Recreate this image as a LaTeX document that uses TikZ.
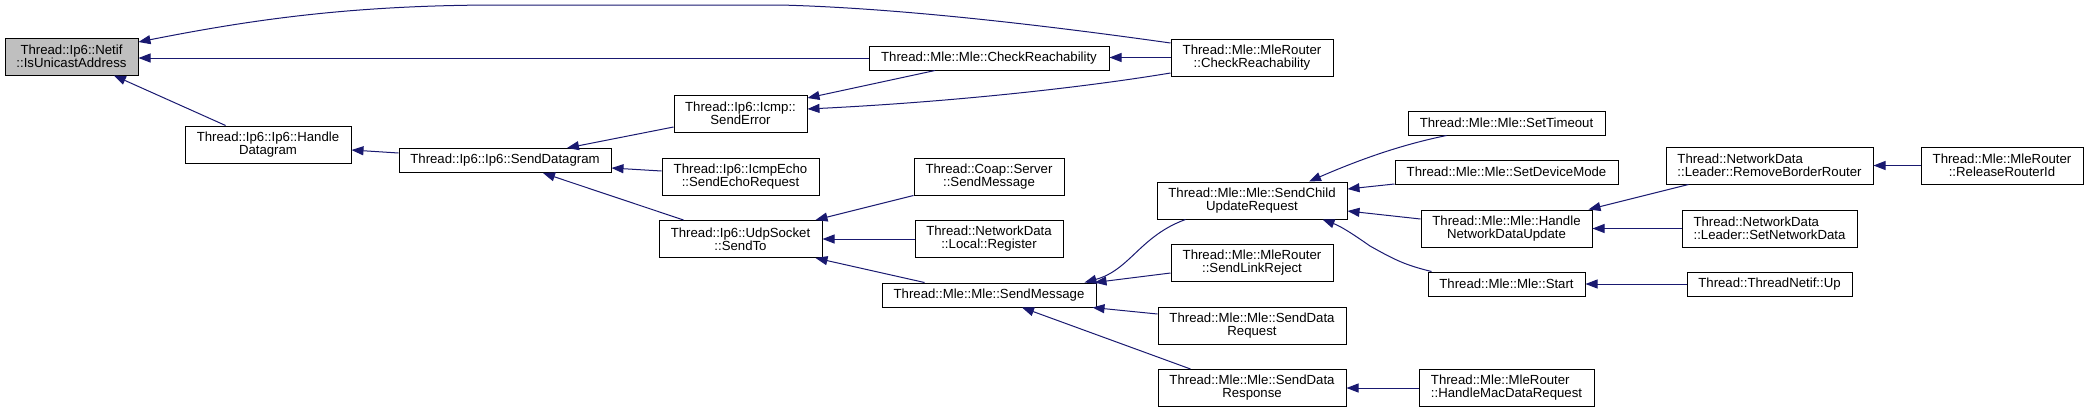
\documentclass[tikz,border=0pt]{standalone}
\usepackage{fontspec}
\setmainfont{Liberation Sans}
\usetikzlibrary{arrows.meta}
\definecolor{edgeblue}{RGB}{25,25,112}
\definecolor{nodegray}{RGB}{191,191,191}
\begin{document}
\begin{tikzpicture}[x=1pt,y=-1pt,
  fn/.style={draw=black, line width=1pt, inner sep=0pt, align=center, fill=white,
    font=\fontsize{13.2}{13}\selectfont},
  fnl/.style={fn, align=left},
  edge/.style={draw=edgeblue, line width=1pt, -{Triangle[length=12pt,width=9pt]}},
]
\useasboundingbox (0,0) rectangle (2088,413);
% nodes
\node[fn, fill=nodegray, minimum width=133pt, minimum height=37pt] (netif) at (71.5,56.5) {Thread::Ip6::Netif\\::IsUnicastAddress};
\node[fn, minimum width=166pt, minimum height=37pt] (hd) at (268,144.5) {Thread::Ip6::Ip6::Handle\\Datagram};
\node[fn, minimum width=212pt, minimum height=24pt] (sdg) at (505,160.5) {Thread::Ip6::Ip6::SendDatagram};
\node[fn, minimum width=133pt, minimum height=37pt] (se) at (740.5,113.5) {Thread::Ip6::Icmp::\\SendError};
\node[fn, minimum width=157pt, minimum height=37pt] (ser) at (740.5,176.5) {Thread::Ip6::IcmpEcho\\::SendEchoRequest};
\node[fn, minimum width=163pt, minimum height=37pt] (udp) at (740.5,239) {Thread::Ip6::UdpSocket\\::SendTo};
\node[fn, minimum width=240pt, minimum height=24pt] (mlecr) at (989,58) {Thread::Mle::Mle::CheckReachability};
\node[fn, minimum width=162pt, minimum height=37pt] (mrcr) at (1252,57.5) {Thread::Mle::MleRouter\\::CheckReachability};
\node[fn, minimum width=150pt, minimum height=37pt] (coap) at (989,176.5) {Thread::Coap::Server\\::SendMessage};
\node[fn, minimum width=148pt, minimum height=37pt] (local) at (989,239) {Thread::NetworkData\\::Local::Register};
\node[fn, minimum width=214pt, minimum height=24pt] (sm) at (989,295) {Thread::Mle::Mle::SendMessage};
\node[fn, minimum width=190pt, minimum height=37pt] (scur) at (1252,200.5) {Thread::Mle::Mle::SendChild\\UpdateRequest};
\node[fn, minimum width=162pt, minimum height=37pt] (slr) at (1252,263) {Thread::Mle::MleRouter\\::SendLinkReject};
\node[fn, minimum width=188pt, minimum height=37pt] (sdreq) at (1252,325.5) {Thread::Mle::Mle::SendData\\Request};
\node[fn, minimum width=188pt, minimum height=37pt] (sdresp) at (1252,388) {Thread::Mle::Mle::SendData\\Response};
\node[fn, minimum width=197pt, minimum height=24pt] (st) at (1506.5,123) {Thread::Mle::Mle::SetTimeout};
\node[fn, minimum width=223pt, minimum height=24pt] (sdm) at (1506.5,172) {Thread::Mle::Mle::SetDeviceMode};
\node[fn, minimum width=171pt, minimum height=37pt] (hndu) at (1506.5,228.5) {Thread::Mle::Mle::Handle\\NetworkDataUpdate};
\node[fn, minimum width=157pt, minimum height=24pt] (start) at (1506.5,284) {Thread::Mle::Mle::Start};
\node[fnl, minimum width=175pt, minimum height=37pt] (hmdr) at (1506.5,388) {Thread::Mle::MleRouter\\::HandleMacDataRequest};
\node[fnl, minimum width=207pt, minimum height=37pt] (rbr) at (1769.5,165.5) {Thread::NetworkData\\::Leader::RemoveBorderRouter};
\node[fnl, minimum width=175pt, minimum height=37pt] (snd) at (1769.5,228.5) {Thread::NetworkData\\::Leader::SetNetworkData};
\node[fn, minimum width=165pt, minimum height=24pt] (up) at (1769.5,284) {Thread::ThreadNetif::Up};
\node[fn, minimum width=162pt, minimum height=37pt] (rri) at (2002,165.5) {Thread::Mle::MleRouter\\::ReleaseRouterId};
% edges (caller -> callee)
\draw[edge] ([yshift=14.5pt]mrcr.west) .. controls (1050,26) and (900,8) .. (780,5) -- (500,5) .. controls (350,5) and (250,20) .. ([yshift=14.5pt]netif.east);
\draw[edge] (mlecr.west) -- (mlecr.west -| netif.east);
\draw[edge] (hd) -- (netif);
\draw[edge] ([yshift=7.5pt]sdg.west) -- ([yshift=-5.5pt]hd.east);
\draw[edge] ([yshift=-13.5pt]se.west) -- ([xshift=62pt]sdg.north);
\draw[edge] ([yshift=5.5pt]ser.west) -- ([yshift=-7.5pt]sdg.east);
\draw[edge] ([xshift=25pt]udp.north west) -- ([xshift=38pt]sdg.south);
\draw[edge] ([xshift=-54pt]mlecr.south) -- ([yshift=15.5pt]se.east);
\draw[edge] ([yshift=-15.5pt]mrcr.west) .. controls (1080,88) and (950,102) .. ([yshift=4.5pt]se.east);
\draw[edge] (mrcr.west) -- (mrcr.west -| mlecr.east);
\draw[edge] (coap.south west) -- ([xshift=-7pt]udp.north east);
\draw[edge] (local.west) -- (udp.east);
\draw[edge] ([xshift=43pt]sm.north west) -- ([xshift=-7pt]udp.south east);
\draw[edge] ([xshift=29pt]scur.south west) .. controls (1140,236) and (1130,270) .. ([xshift=-12pt]sm.north east);
\draw[edge] ([yshift=-10pt]slr.west) -- ([xshift=-2pt]sm.north east);
\draw[edge] ([yshift=11.5pt]sdreq.west) -- ([xshift=-4pt]sm.south east);
\draw[edge] ([xshift=33pt]sdresp.north west) -- ([xshift=33pt]sm.south);
\draw[edge] ([xshift=39pt]st.south west) .. controls (1410,143) and (1370,155) .. ([xshift=57pt]scur.north);
\draw[edge] ([yshift=-12pt]sdm.west) -- ([yshift=11.5pt]scur.east);
\draw[edge] ([yshift=9.5pt]hndu.west) -- ([yshift=-10.5pt]scur.east);
\draw[edge] ([xshift=4pt]start.north west) .. controls (1405,265) and (1395,260) .. (1370,246) .. controls (1350,232) and (1340,226) .. ([xshift=-25pt]scur.south east);
\draw[edge] ([xshift=23pt]rbr.south west) -- ([xshift=-4pt]hndu.north east);
\draw[edge] (snd.west) -- (hndu.east);
\draw[edge] (up.west) -- (start.east);
\draw[edge] (rri.west) -- (rbr.east);
\draw[edge] (hmdr.west) -- (sdresp.east);
\end{tikzpicture}
\end{document}
